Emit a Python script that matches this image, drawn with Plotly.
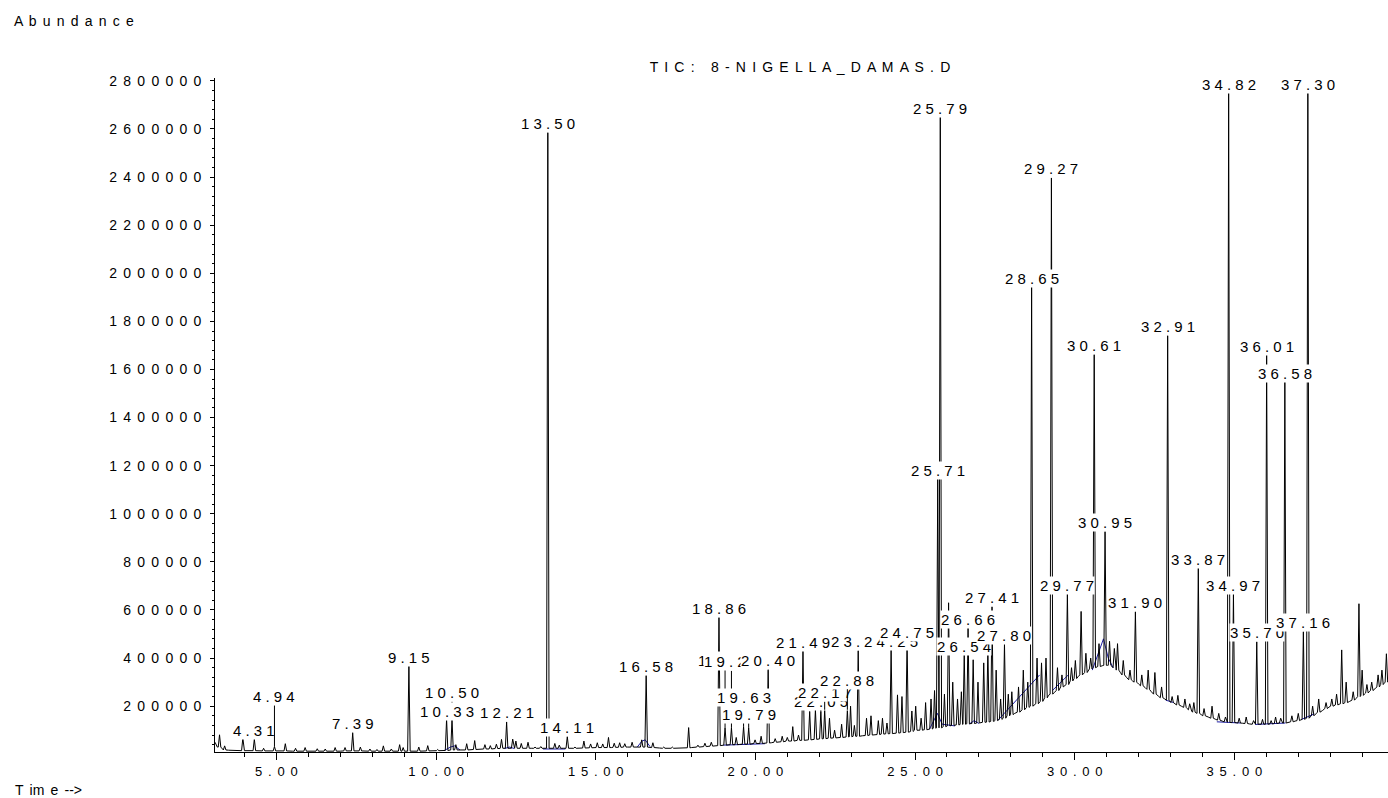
import plotly.graph_objects as go

# ---------------- data ----------------
# peaks: retention time (min), apex abundance, local baseline at the peak foot
peak_rt = [3.22, 3.38, 3.95, 4.31, 4.60, 4.94, 5.28, 5.60, 5.90, 6.28, 6.53, 6.84, 7.15, 7.39, 7.63,
           7.93, 8.15, 8.35, 8.60, 8.86, 8.97, 9.15, 9.46, 9.74, 10.05, 10.33, 10.50, 10.62, 10.96,
           11.21, 11.53, 11.70, 11.89, 12.05, 12.21, 12.40, 12.50, 12.67, 12.88, 13.10, 13.28, 13.50,
           13.72, 13.86, 14.11, 14.35, 14.63, 14.84, 15.05, 15.22, 15.40, 15.58, 15.75, 15.91, 16.14,
           16.44, 16.58, 16.79, 17.13, 17.40, 17.60, 17.91, 18.20, 18.42, 18.62, 18.86, 19.05, 19.25,
           19.40, 19.63, 19.79, 19.99, 20.18, 20.40, 20.62, 20.84, 21.00, 21.17, 21.35, 21.49, 21.70,
           21.88, 22.05, 22.17, 22.32, 22.48, 22.70, 22.88, 22.98, 23.10, 23.22, 23.48, 23.62, 23.85,
           23.98, 24.12, 24.25, 24.45, 24.59, 24.75, 24.90, 25.02, 25.19, 25.33, 25.50, 25.61, 25.71,
           25.79, 25.92, 26.05, 26.18, 26.33, 26.45, 26.54, 26.66, 26.82, 26.97, 27.15, 27.28, 27.41,
           27.54, 27.68, 27.80, 27.92, 28.03, 28.24, 28.39, 28.53, 28.65, 28.82, 28.96, 29.10, 29.27,
           29.46, 29.60, 29.77, 29.90, 30.02, 30.20, 30.35, 30.50, 30.61, 30.76, 30.95, 31.09, 31.24,
           31.34, 31.52, 31.73, 31.90, 32.10, 32.30, 32.51, 32.72, 32.91, 33.05, 33.23, 33.45, 33.60,
           33.73, 33.87, 34.05, 34.30, 34.51, 34.72, 34.82, 34.97, 35.15, 35.37, 35.60, 35.70, 35.88,
           36.01, 36.15, 36.29, 36.45, 36.58, 36.80, 37.00, 37.16, 37.30, 37.45, 37.64, 37.87, 38.05,
           38.20, 38.36, 38.50, 38.72, 38.90, 39.00, 39.15, 39.30, 39.50, 39.62, 39.76]
peak_top = [81000, 35000, 67000, 63000, 25000, 32000, 44000, 25000, 28000, 23000, 22000, 28000, 28000, 88000, 30000,
            22000, 20000, 35000, 22000, 40000, 28000, 368000, 30000, 36000, 20000, 146000, 146000, 40000, 44000,
            57000, 40000, 36000, 42000, 62000, 134000, 63000, 55000, 45000, 50000, 30000, 32000, 2586000,
            45000, 38000, 74000, 30000, 55000, 43000, 48000, 43000, 70000, 46000, 48000, 44000, 50000,
            60000, 328000, 48000, 30000, 30000, 27000, 111000, 38000, 46000, 50000, 570000, 110000, 110000,
            70000, 115000, 110000, 60000, 75000, 350000, 65000, 75000, 70000, 115000, 80000, 430000, 178000,
            185000, 178000, 185000, 150000, 100000, 125000, 185000, 200000, 120000, 430000, 150000, 160000, 140000,
            150000, 130000, 434000, 247000, 240000, 472000, 180000, 200000, 150000, 215000, 230000, 265000, 1146000,
            2652000, 250000, 630000, 300000, 230000, 260000, 414000, 526000, 393000, 300000, 380000, 440000, 614000,
            350000, 230000, 460000, 250000, 260000, 280000, 350000, 300000, 1943000, 400000, 380000, 400000, 2396000,
            360000, 330000, 667000, 360000, 390000, 594000, 420000, 400000, 1663000, 460000, 926000, 470000, 440000,
            460000, 390000, 350000, 593000, 330000, 350000, 340000, 280000, 1741000, 240000, 245000, 230000, 210000,
            215000, 776000, 190000, 200000, 170000, 155000, 2753000, 667000, 150000, 155000, 140000, 468000, 145000,
            1661000, 140000, 155000, 150000, 1549000, 160000, 170000, 510000, 2753000, 200000, 230000, 215000, 230000,
            250000, 434000, 300000, 260000, 626000, 350000, 290000, 300000, 330000, 350000, 418000]
peak_foot = [30000, 18000, 15000, 15000, 14000, 14000, 14000, 13000, 13000, 13000, 13000, 13000, 14000, 14000, 14000,
             13000, 13000, 13000, 13000, 13000, 13000, 13000, 13000, 14000, 15000, 16000, 18000, 18000, 18000,
             20000, 22000, 22000, 24000, 25000, 25000, 25000, 25000, 25000, 25000, 25000, 25000, 25000,
             25000, 25000, 25000, 25000, 26000, 27000, 28000, 28000, 28000, 29000, 29000, 30000, 30000,
             30000, 30000, 28000, 25000, 25000, 25000, 27000, 30000, 32000, 34000, 36000, 38000, 40000,
             40000, 42000, 42000, 45000, 45000, 47000, 50000, 52000, 55000, 55000, 58000, 58000, 60000,
             62000, 64000, 65000, 67000, 68000, 70000, 72000, 73000, 75000, 75000, 78000, 80000, 82000,
             84000, 85000, 86000, 88000, 90000, 92000, 95000, 100000, 100000, 102000, 105000, 108000, 110000,
             110000, 115000, 118000, 120000, 122000, 124000, 125000, 127000, 128000, 130000, 133000, 134000, 137000,
             140000, 145000, 150000, 160000, 165000, 175000, 185000, 195000, 200000, 210000, 220000, 235000, 250000,
             265000, 280000, 290000, 305000, 315000, 330000, 340000, 355000, 360000, 365000, 370000, 370000, 360000,
             350000, 330000, 310000, 300000, 285000, 270000, 250000, 235000, 225000, 215000, 205000, 195000, 185000,
             175000, 170000, 160000, 150000, 142000, 135000, 133000, 132000, 130000, 128000, 125000, 125000, 125000,
             125000, 126000, 128000, 130000, 130000, 135000, 140000, 145000, 150000, 160000, 175000, 190000, 200000,
             205000, 210000, 215000, 225000, 240000, 245000, 255000, 265000, 280000, 290000, 300000]

# baseline between peaks
base_rt = [3.08, 3.15, 3.50, 4.00, 4.50, 5.00, 5.50, 6.00, 6.50, 7.00, 7.50, 8.00, 8.50, 9.00, 9.50,
           10.00, 10.75, 11.00, 11.40, 12.00, 13.00, 14.00, 14.50, 15.00, 15.50, 16.00, 16.30, 17.00,
           17.50, 18.00, 18.50, 19.00, 19.50, 20.00, 20.50, 21.25, 21.60, 22.25, 22.60, 23.35, 23.75,
           24.35, 24.85, 25.25, 25.40, 25.87, 26.25, 26.75, 27.05, 27.35, 27.48, 27.74, 28.12, 28.45,
           28.74, 29.18, 29.37, 29.68, 30.10, 30.43, 30.68, 30.86, 31.02, 31.17, 31.43, 31.62, 31.81,
           32.00, 32.20, 32.40, 32.62, 32.82, 33.14, 33.34, 33.52, 33.66, 33.80, 33.96, 34.18, 34.40,
           34.62, 34.90, 35.06, 35.26, 35.48, 35.80, 36.08, 36.22, 36.37, 36.51, 36.69, 36.90, 37.08,
           37.23, 37.37, 37.55, 37.76, 37.96, 38.12, 38.28, 38.43, 38.61, 38.81, 39.07, 39.22, 39.40,
           39.56, 39.69, 39.81]
base_level = [50000, 30000, 17000, 15000, 14000, 14000, 13000, 13000, 13000, 13000, 14000, 13000, 13000, 13000, 13000,
              15000, 18000, 19000, 21000, 24000, 25000, 25000, 25000, 28000, 28000, 30000, 30000, 26000,
              25000, 28000, 33000, 38000, 41000, 45000, 48000, 56000, 59000, 66000, 69000, 77000, 81000,
              87000, 94000, 101000, 103000, 113000, 121000, 127000, 131000, 135000, 138000, 148000, 170000, 190000,
              205000, 245000, 258000, 285000, 322000, 348000, 362000, 368000, 370000, 365000, 340000, 320000, 305000,
              292000, 278000, 260000, 242000, 230000, 210000, 200000, 190000, 180000, 172000, 165000, 155000, 146000,
              138000, 132000, 131000, 129000, 126000, 125000, 125000, 127000, 129000, 130000, 132000, 138000, 143000,
              148000, 155000, 168000, 182000, 196000, 202000, 208000, 212000, 220000, 232000, 250000, 260000, 272000,
              285000, 295000, 305000]

# blue integration baseline segments (None separates segments)
blue_rt = [10.25, 10.45, 10.58, 10.75, None, 12.15, 12.30, 12.45, None, 13.35, 14.05, None,
           16.30, 16.45, 16.55, 16.70, None, 19.00, 19.60, 20.30, None,
           25.45, 25.62, 25.70, 25.85, 26.25, None, 26.70, 26.85, 27.00, None, 27.60, 28.90, None,
           29.30, 29.80, None, 30.55, 30.75, 30.90, 31.05, 31.20, None, 32.85, 33.10, None,
           34.45, 35.20, None, 35.65, 36.60, None, 37.10, 37.50]
blue_level = [15000, 30000, 35000, 18000, None, 24000, 30000, 24000, None, 22000, 22000, None,
              30000, 55000, 60000, 32000, None, 38000, 40000, 44000, None,
              104000, 150000, 170000, 125000, 118000, None, 126000, 140000, 128000, None, 142000, 330000, None,
              265000, 330000, None, 350000, 420000, 480000, 400000, 360000, None, 225000, 215000, None,
              135000, 130000, None, 124000, 130000, None, 145000, 168000]

# peak labels: retention time and the height of the label centre
lab_rt = [4.31, 4.94, 7.39, 9.15, 10.50, 10.33, 12.21, 13.50, 14.11, 16.58, 18.86, 19.05, 19.25,
          20.40, 19.63, 19.79, 21.49, 22.05, 22.17, 22.88, 23.22, 24.25, 24.75, 25.71, 25.79, 26.54,
          26.66, 27.41, 27.80, 28.65, 29.27, 29.77, 30.61, 30.95, 31.90, 32.91, 33.87, 34.82, 34.97,
          35.70, 37.16, 36.01, 36.58, 37.30]
lab_y = [99000, 240000, 128000, 401000, 255500, 179000, 172000, 2621000, 110000, 366000, 604500, 389000, 384000,
         390000, 235000, 165000, 466000, 220000, 255500, 308000, 468600, 468600, 505000, 1180000, 2686000, 446600,
         560000, 650000, 493600, 1977000, 2434000, 702600, 1699000, 964000, 629500, 1779000, 812000, 2787000, 702600,
         505000, 546000, 1696000, 1585000, 2787000]

x_tick_vals = [5, 10, 15, 20, 25, 30, 35]
x_tick_text = ["5.00", "10.00", "15.00", "20.00", "25.00", "30.00", "35.00"]
y_tick_vals = [200000, 400000, 600000, 800000, 1000000, 1200000, 1400000, 1600000, 1800000,
               2000000, 2200000, 2400000, 2600000, 2800000]
y_tick_text = [str(v) for v in y_tick_vals]

title_text = "TIC: 8-NIGELLA_DAMAS.D"

# ---------------- build figure ----------------
FONT = "Liberation Sans, Arial, sans-serif"
WIDE = " \u2006"


def spaced(s, sep=WIDE):
    return sep.join(list(s))


HW = 0.04
windows = [(t - HW, t + HW) for t in peak_rt]
pts = []
for t, v in zip(base_rt, base_level):
    if any(a <= t <= b for a, b in windows):
        continue
    pts.append((t, v))
for t, top, foot in zip(peak_rt, peak_top, peak_foot):
    pts += [(t - HW, foot), (t, top), (t + HW, foot)]
pts.sort(key=lambda p: p[0])
tx = [p[0] for p in pts]
ty = [p[1] for p in pts]

fig = go.Figure()
fig.add_trace(go.Scatter(x=blue_rt, y=blue_level, mode="lines",
                         line=dict(color="#1c1ca6", width=1), hoverinfo="skip"))
fig.add_trace(go.Scatter(x=tx, y=ty, mode="lines",
                         line=dict(color="black", width=1), hoverinfo="skip"))

top_of = dict(zip(peak_rt, peak_top))
for rt, ly in zip(lab_rt, lab_y):
    fig.add_annotation(x=rt, y=top_of[rt], ax=rt, ay=ly, xref="x", yref="y", axref="x", ayref="y",
                       text=spaced(f"{rt:.2f}", " "), showarrow=True, arrowhead=0, arrowwidth=1,
                       arrowcolor="black", standoff=0, startstandoff=0,
                       bgcolor="white", borderpad=0,
                       font=dict(family=FONT, size=15, color="black"))

fig.add_annotation(xref="paper", yref="paper", x=(11.7 - 215) / 1173, y=(752 - 21) / 674,
                   xanchor="left", yanchor="middle", showarrow=False,
                   text=spaced("Abundance"), font=dict(family=FONT, size=14, color="black"))
fig.add_annotation(xref="paper", yref="paper", x=(13.4 - 215) / 1173, y=(752 - 790) / 674,
                   xanchor="left", yanchor="middle", showarrow=False,
                   text="T" + WIDE + "im" + WIDE + "e" + WIDE + "-->",
                   font=dict(family=FONT, size=14, color="black"))

fig.update_layout(
    width=1388, height=798,
    margin=dict(l=215, r=0, t=78, b=46),
    paper_bgcolor="white", plot_bgcolor="white",
    showlegend=False,
    title=dict(text=spaced(title_text), x=800 / 1388, xref="container", xanchor="center",
               y=1 - 67 / 798, yref="container", yanchor="middle",
               font=dict(family=FONT, size=14, color="black")),
    font=dict(family=FONT, color="black"),
)
fig.update_xaxes(range=[3.078, 39.81], showline=True, linecolor="black", linewidth=1,
                 showgrid=False, zeroline=False, ticks="outside", ticklen=7, tickwidth=1,
                 tickcolor="black", tickmode="array", tickvals=x_tick_vals,
                 ticktext=[spaced(s) for s in x_tick_text],
                 tickfont=dict(family=FONT, size=13, color="black"),
                 minor=dict(ticks="outside", ticklen=4, tickcolor="black", tickmode="linear",
                            tick0=0, dtick=1, showgrid=False))
fig.update_yaxes(range=[9500, 2812000], showline=True, linecolor="black", linewidth=1,
                 showgrid=False, zeroline=False, ticks="outside", ticklen=4, tickwidth=1,
                 tickcolor="black", tickmode="array", tickvals=y_tick_vals,
                 ticktext=[spaced(s) for s in y_tick_text],
                 tickfont=dict(family=FONT, size=14, color="black"), ticklabelstandoff=6,
                 minor=dict(ticks="outside", ticklen=2, tickcolor="black", tickmode="linear",
                            tick0=0, dtick=40000, showgrid=False))

fig.write_html("out.html", config={"displayModeBar": False, "staticPlot": True},
               post_script="document.body.style.margin='0px';document.body.style.padding='0px';"
                           "document.documentElement.style.overflow='hidden';")
